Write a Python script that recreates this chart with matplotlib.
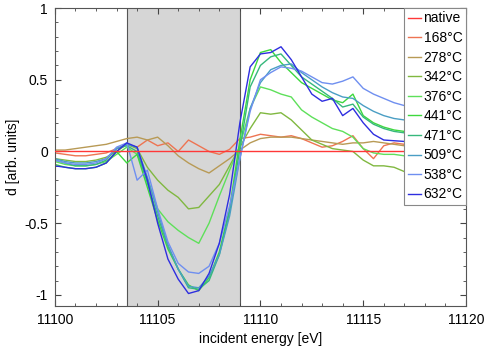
import numpy as np
import matplotlib
matplotlib.use("Agg")
import matplotlib.pyplot as plt
from matplotlib.ticker import MultipleLocator

plt.rcParams['font.family'] = ['Liberation Sans', 'DejaVu Sans']
plt.rcParams['axes.unicode_minus'] = False

# energy grid [eV]
energy = 11100 + 0.5 * np.arange(41)

# difference spectra d(E) relative to the native sample
d_native = [0.0] * 41
d_168 = [-0.01, -0.02, -0.03, -0.03, -0.02, -0.01, 0.02, 0.05, 0.03, 0.08,
         0.04, 0.06, 0.0, 0.08, 0.04, 0.0, -0.02, 0.015, 0.09, 0.1,
         0.12, 0.11, 0.1, 0.11, 0.09, 0.06, 0.03, 0.04, 0.07, 0.11,
         0.02, -0.05, 0.04, 0.06, 0.05, 0.04, 0.03, 0.05, 0.04, 0.03, 0.03]
d_278 = [0.01, 0.01, 0.02, 0.03, 0.04, 0.05, 0.07, 0.09, 0.1, 0.08,
         0.1, 0.04, -0.03, -0.08, -0.12, -0.15, -0.1, -0.05, 0.01, 0.06,
         0.09, 0.1, 0.1, 0.1, 0.09, 0.08, 0.07, 0.06, 0.05, 0.06,
         0.06, 0.07, 0.06, 0.05, 0.04, 0.04, 0.05, 0.04, 0.03, 0.03, 0.03]
d_342 = [-0.05, -0.06, -0.07, -0.07, -0.06, -0.04, 0.0, 0.05, 0.02, -0.11,
         -0.2, -0.27, -0.32, -0.4, -0.39, -0.31, -0.23, -0.1, 0.03, 0.16,
         0.27, 0.26, 0.27, 0.22, 0.15, 0.08, 0.05, 0.02, 0.01, 0.0,
         -0.06, -0.1, -0.1, -0.11, -0.14, -0.15, -0.16, -0.15, -0.16, -0.17, -0.17]
d_376 = [-0.07, -0.09, -0.1, -0.1, -0.09, -0.07, -0.02, 0.03, -0.02, -0.19,
         -0.4, -0.49, -0.55, -0.6, -0.64, -0.5, -0.31, -0.13, 0.04, 0.3,
         0.45, 0.43, 0.4, 0.38, 0.29, 0.24, 0.2, 0.16, 0.14, 0.1,
         0.02, -0.01, -0.02, -0.02, -0.03, -0.03, -0.04, -0.03, -0.04, -0.04, -0.05]
d_441 = [-0.09, -0.11, -0.12, -0.12, -0.11, -0.08, 0.0, -0.08, -0.02, -0.25,
         -0.48, -0.68, -0.82, -0.93, -0.97, -0.88, -0.7, -0.4, 0.08, 0.5,
         0.69, 0.71, 0.62, 0.55, 0.48, 0.44, 0.4, 0.36, 0.34, 0.4,
         0.25, 0.2, 0.17, 0.15, 0.14, 0.13, 0.12, 0.12, 0.11, 0.1, 0.1]
d_471 = [-0.06, -0.08, -0.1, -0.1, -0.09, -0.06, 0.02, 0.04, 0.0, -0.22,
         -0.45, -0.66, -0.82, -0.95, -0.96, -0.9, -0.72, -0.42, 0.02, 0.45,
         0.6, 0.66, 0.68, 0.6, 0.52, 0.47, 0.42, 0.37, 0.31, 0.33,
         0.24, 0.19, 0.16, 0.14, 0.13, 0.12, 0.12, 0.11, 0.11, 0.1, 0.1]
d_509 = [-0.05, -0.07, -0.08, -0.08, -0.07, -0.05, 0.02, 0.05, 0.03, -0.18,
         -0.42, -0.65, -0.82, -0.94, -0.95, -0.87, -0.72, -0.45, -0.05, 0.3,
         0.48, 0.57, 0.6, 0.61, 0.55, 0.5, 0.45, 0.41, 0.38, 0.37,
         0.32, 0.28, 0.25, 0.23, 0.22, 0.21, 0.2, 0.2, 0.19, 0.18, 0.18]
d_538 = [-0.06, -0.08, -0.09, -0.09, -0.08, -0.05, 0.03, 0.06, -0.2, -0.13,
         -0.4, -0.63, -0.78, -0.84, -0.85, -0.8, -0.64, -0.38, -0.05, 0.28,
         0.5, 0.55, 0.59, 0.58, 0.56, 0.52, 0.48, 0.47, 0.49, 0.52,
         0.44, 0.4, 0.37, 0.34, 0.32, 0.31, 0.3, 0.29, 0.28, 0.27, 0.27]
d_632 = [-0.1, -0.11, -0.12, -0.12, -0.11, -0.08, 0.0, 0.06, 0.03, -0.2,
         -0.5, -0.75, -0.89, -0.99, -0.97, -0.85, -0.64, -0.3, 0.2, 0.59,
         0.68, 0.69, 0.73, 0.64, 0.52, 0.4, 0.35, 0.37, 0.25, 0.3,
         0.2, 0.12, 0.08, 0.075, 0.07, 0.06, 0.06, 0.05, 0.05, 0.05, 0.04]

labels = ['native', '168°C', '278°C', '342°C', '376°C', '441°C',
          '471°C', '509°C', '538°C', '632°C']
series = [d_native, d_168, d_278, d_342, d_376, d_441, d_471, d_509, d_538, d_632]
colors = ['#ff3838', '#ee7452', '#b89a55', '#80b840', '#5ee05a', '#3ed83e',
          '#36b87c', '#4a9ec4', '#6f8ff0', '#2e2ee0']

# pre-edge / edge window
edge_lo, edge_hi = 11103.5, 11109.0

fig = plt.figure(figsize=(4.9, 3.49), dpi=100)
ax = fig.add_axes([0.112, 0.122, 0.839, 0.855])

ax.axvspan(edge_lo, edge_hi, facecolor='#d6d6d6', edgecolor='none', zorder=0)
ax.axvline(edge_lo, color='#555555', lw=0.8, zorder=0.5)
ax.axvline(edge_hi, color='#555555', lw=0.8, zorder=0.5)

for y, lab, c in zip(series, labels, colors):
    z = 3 if lab == 'native' else 2
    ax.plot(energy, y, color=c, lw=1.0, label=lab, zorder=z)

ax.set_xlim(11100, 11120)
ax.set_ylim(-1.08, 1.0)
ax.xaxis.set_major_locator(MultipleLocator(5))
ax.xaxis.set_minor_locator(MultipleLocator(1))
ax.yaxis.set_minor_locator(MultipleLocator(0.1))
ax.set_yticks([-1, -0.5, 0, 0.5, 1])
ax.set_yticklabels(['-1', '-0.5', '0', '0.5', '1'])
ax.tick_params(which='both', direction='in', top=True, right=True,
               labelsize=10, color='#444444')
ax.tick_params(which='major', length=4, pad=5)
ax.tick_params(which='minor', length=2)
for s in ax.spines.values():
    s.set_color('#555555')
    s.set_linewidth(0.8)

ax.set_xlabel('incident energy [eV]', fontsize=10, labelpad=3)
ax.set_ylabel('d [arb. units]', fontsize=10, labelpad=3)

leg = ax.legend(loc='upper right', fontsize=10, frameon=True, fancybox=False,
                framealpha=1, edgecolor='#888888', handlelength=1.0,
                handletextpad=0.15, labelspacing=0.4, borderpad=0.25,
                borderaxespad=0.0)
leg.get_frame().set_linewidth(0.8)

fig.savefig('out.png', dpi=100)
